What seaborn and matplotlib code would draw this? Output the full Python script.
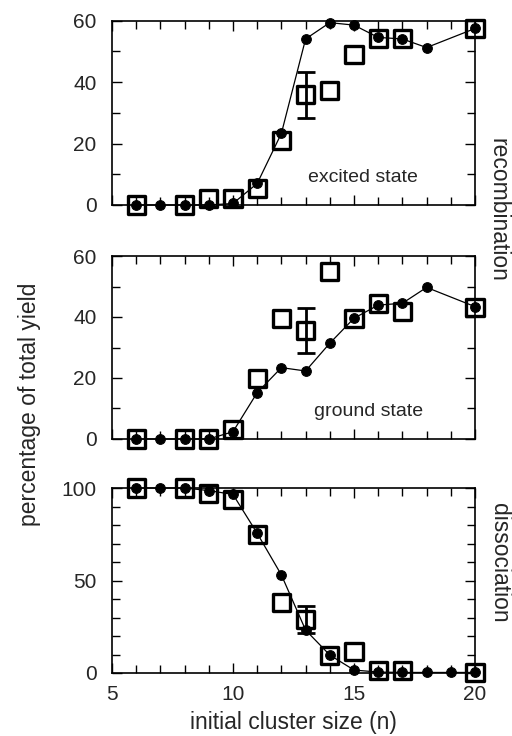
import matplotlib
matplotlib.use("Agg")
import matplotlib.pyplot as plt
import seaborn as sns
from matplotlib.ticker import MultipleLocator

# cluster sizes
n_calc = [6, 7, 8, 9, 10, 11, 12, 13, 14, 15, 16, 17, 18, 20]
n_calc_dis = [6, 7, 8, 9, 10, 11, 12, 13, 14, 15, 16, 17, 18, 19, 20]
n_exp = [6, 8, 9, 10, 11, 12, 13, 14, 15, 16, 17, 20]

# calculated yields (filled circles + line)
excited_calc = [0, 0, 0, 0, 0.5, 7, 23.3, 54, 59.3, 58.5, 54.5, 54, 51.2, 57.4]
ground_calc = [0, 0, 0, 0, 2.4, 15.2, 23.4, 22.3, 31.4, 39.6, 43.9, 44.5, 49.7, 43.4]
dis_calc = [100, 100, 100, 98.6, 96.5, 75.5, 53, 23.2, 9.7, 1.6, 0.5, 0.3, 0.3, 0.3, 0.3]

# experimental yields (open squares)
excited_exp = [0, 0, 2.2, 2, 5.4, 21.1, 35.8, 37.2, 49, 54, 54, 57.4]
ground_exp = [0, 0, 0, 3.0, 19.9, 39.6, 35.5, 54.9, 39.6, 44.3, 41.7, 43.2]
dis_exp = [100, 100, 96.8, 93.9, 74.6, 38, 29, 9.5, 11.5, 1.1, 1.6, 0.3]

# error bar at n = 13
err_n = 13
err_vals = [35.8, 35.5, 29]
err_size = [7.5, 7.3, 7.4]

sns.set_theme(style="ticks")
plt.rcParams['font.family'] = ['Liberation Sans', 'DejaVu Sans']

fig = plt.figure(figsize=(5.12, 7.36), dpi=100)
W, H = 512, 736
left, right = 112, 475
panels = [(20.5, 205), (256, 439), (488, 673)]

axes = []
for top, bot in panels:
    ax = fig.add_axes([left / W, 1 - bot / H, (right - left) / W, (bot - top) / H])
    axes.append(ax)

calc = [(n_calc, excited_calc), (n_calc, ground_calc), (n_calc_dis, dis_calc)]
exp = [excited_exp, ground_exp, dis_exp]
ylims = [60, 60, 100]

for i, ax in enumerate(axes):
    nx, vals = calc[i]
    sns.lineplot(x=nx, y=vals, ax=ax, color='black', lw=0.9, marker='o',
                 markersize=7, markeredgecolor='black', clip_on=False, zorder=3)
    sns.scatterplot(x=n_exp, y=exp[i], ax=ax, marker='s', s=150,
                    facecolors='none', edgecolor='black', linewidth=2.4,
                    clip_on=False, zorder=4)
    ax.errorbar([err_n], [err_vals[i]], yerr=[err_size[i]], fmt='none',
                ecolor='black', elinewidth=2, capsize=6.5, capthick=2,
                clip_on=False, zorder=4)

    ax.set_xlim(5, 20)
    ax.set_ylim(0, ylims[i])
    ax.xaxis.set_major_locator(MultipleLocator(5))
    ax.xaxis.set_minor_locator(MultipleLocator(1))
    if ylims[i] == 60:
        ax.yaxis.set_major_locator(MultipleLocator(20))
    else:
        ax.yaxis.set_major_locator(MultipleLocator(50))
    ax.yaxis.set_minor_locator(MultipleLocator(10))
    ax.tick_params(which='both', direction='in', top=True, right=True,
                   color='black', width=1)
    ax.tick_params(which='major', length=7, labelsize=15)
    ax.tick_params(axis='y', which='major', pad=11)
    ax.tick_params(axis='x', which='major', pad=8.5)
    ax.tick_params(which='minor', length=6)
    for sp in ax.spines.values():
        sp.set_color('black')
        sp.set_linewidth(1.2)
    if i < 2:
        ax.tick_params(labelbottom=False)

axes[0].text(15.35, 8.8, 'excited state', ha='center', va='center', fontsize=14)
axes[1].text(15.6, 9.0, 'ground state', ha='center', va='center', fontsize=14)
axes[2].set_xlabel('initial cluster size (n)', fontsize=16.5, labelpad=5)

fig.text(30 / W, 1 - 404 / H, 'percentage of total yield', rotation=90,
         ha='center', va='center', fontsize=16.5)
fig.text(498 / W, 1 - 210 / H, 'recombination', rotation=-90,
         ha='center', va='center', fontsize=16.5)
fig.text(499 / W, 1 - 563 / H, 'dissociation', rotation=-90,
         ha='center', va='center', fontsize=16.5)

fig.savefig('out.png', dpi=100)
